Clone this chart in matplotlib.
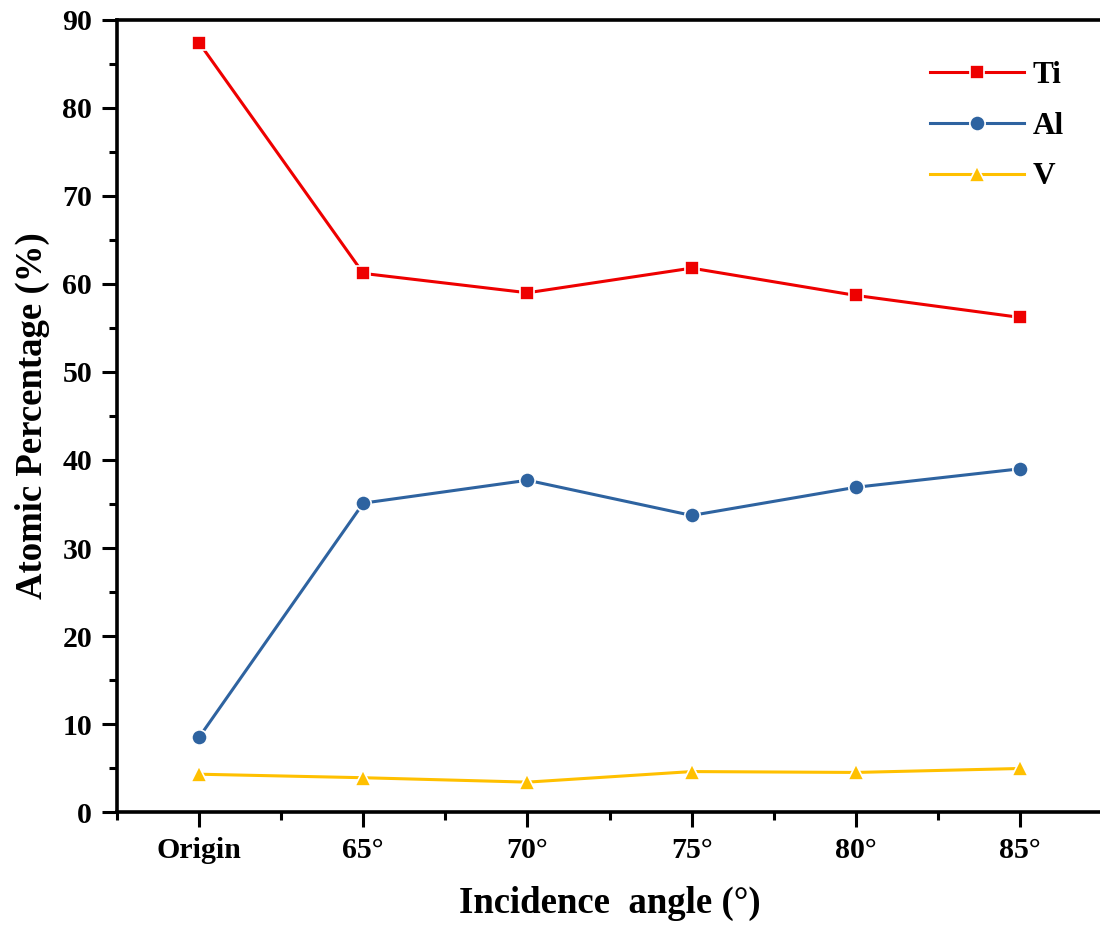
import matplotlib
matplotlib.use("Agg")
import matplotlib.pyplot as plt
from matplotlib.ticker import MultipleLocator

plt.rcParams['font.family'] = ['Liberation Serif', 'DejaVu Serif']
plt.rcParams['font.weight'] = 'bold'

angles = ["Origin", "65°", "70°", "75°", "80°", "85°"]
ti = [87.4, 61.2, 59.0, 61.8, 58.7, 56.2]
al = [8.5, 35.1, 37.7, 33.7, 36.9, 39.0]
v = [4.3, 3.9, 3.4, 4.6, 4.5, 4.95]

fig = plt.figure(figsize=(11, 9.27), dpi=100)
ax = fig.add_axes([0.1064, 0.124, 0.8955, 0.8545])

x = range(len(angles))
style = dict(lw=2.2, markeredgecolor='white', markeredgewidth=1.2)
ax.plot(x, ti, color='#EE0000', marker='s', markersize=10, label='Ti', **style)
ax.plot(x, al, color='#2E63A0', marker='o', markersize=11, label='Al', **style)
ax.plot(x, v, color='#FFC000', marker='^', markersize=12, label='V', **style)

ax.set_xlim(-0.5, 5.5)
ax.set_ylim(0, 90)
ax.set_xticks(list(x))
ax.set_xticklabels(angles)
ax.xaxis.set_minor_locator(MultipleLocator(0.5))
ax.yaxis.set_major_locator(MultipleLocator(10))
ax.yaxis.set_minor_locator(MultipleLocator(5))

ax.tick_params(which='major', direction='out', length=11, width=2.2, labelsize=21.5, pad=7)
ax.tick_params(which='minor', direction='out', length=5.5, width=2.2)
ax.tick_params(top=False, right=False)

for side in ['left', 'bottom', 'top']:
    ax.spines[side].set_linewidth(2.6)
ax.spines['right'].set_visible(False)

ax.set_xlabel("Incidence  angle (°)", fontsize=26.5, fontweight='bold', labelpad=16)
ax.set_ylabel("Atomic Percentage (%)", fontsize=26.5, fontweight='bold', labelpad=9)

ax.legend(loc='upper right', bbox_to_anchor=(0.99, 0.984), frameon=False,
          fontsize=22.5, handlelength=3.0, labelspacing=0.7, handletextpad=0.3)

fig.savefig("out.png", dpi=100)
